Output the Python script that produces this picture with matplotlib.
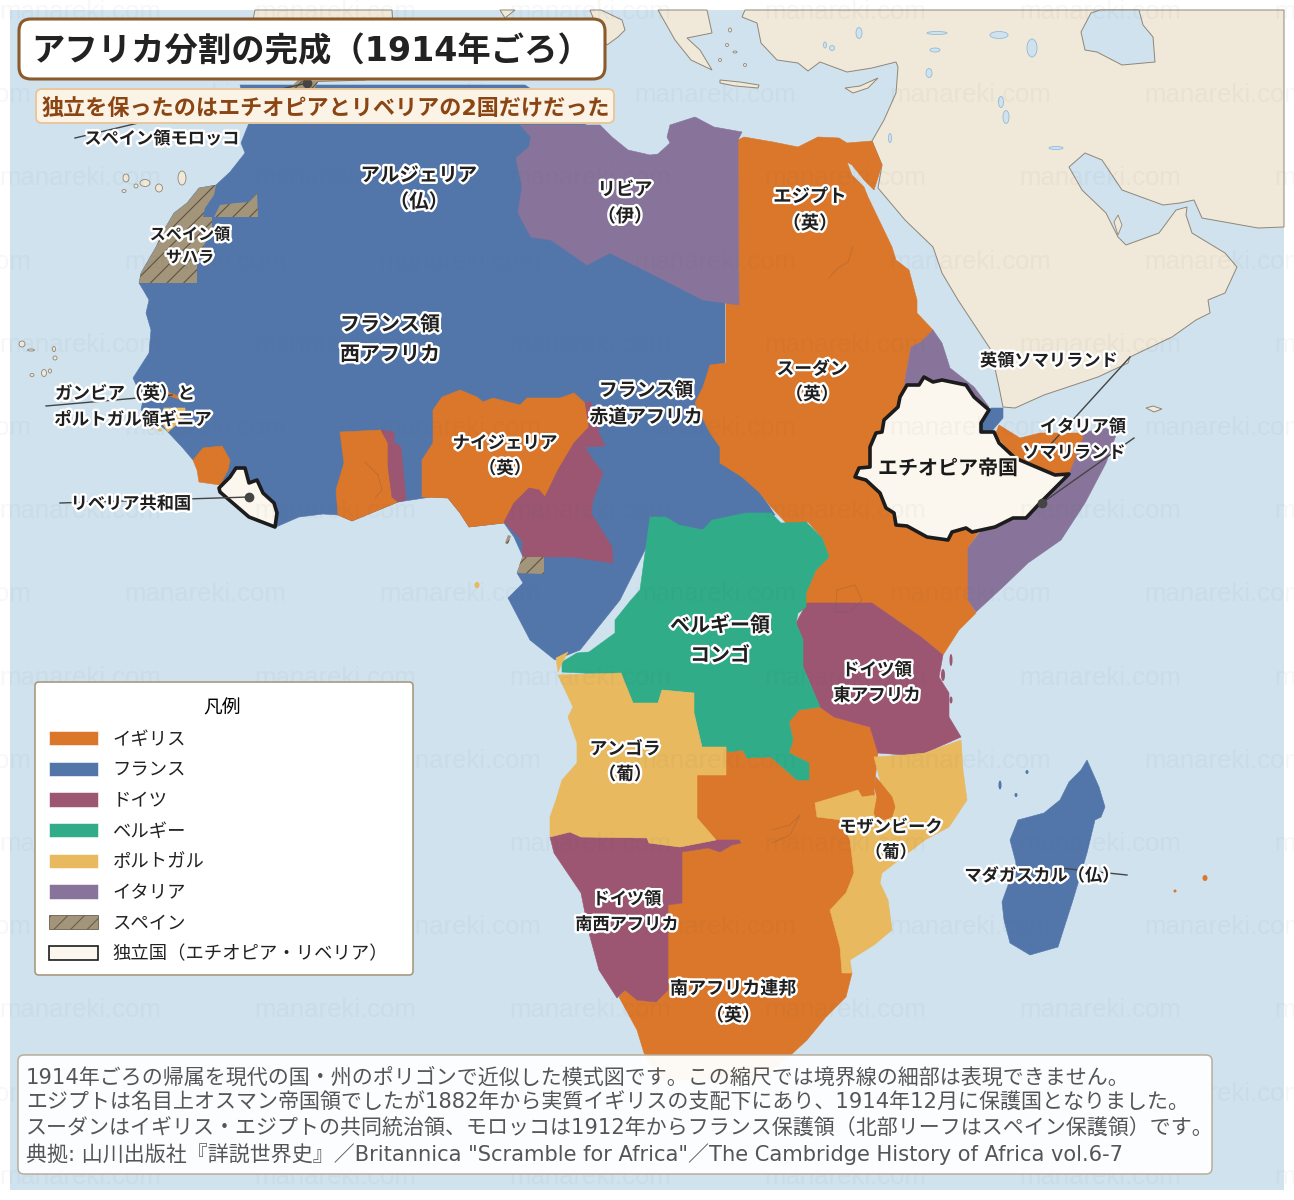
import matplotlib
matplotlib.use("Agg")
import matplotlib.pyplot as plt
from matplotlib.patches import Polygon, Rectangle, FancyBboxPatch, Ellipse, Patch
import matplotlib.patheffects as pe

plt.rcParams['font.family'] = ['Noto Sans CJK JP', 'DejaVu Sans']
plt.rcParams['hatch.linewidth'] = 0.8
plt.rcParams['hatch.color'] = '#5f5444'
LATIN_FIRST = ['DejaVu Sans', 'Noto Sans CJK JP']

# ---------------- data: territories in map units ----------------
FRANCE_MAIN = [(240,85),(525,85),(640,160),(735,300),(725,300),(725,440),(775,515),(650,540),(620,600),(580,650),(555,660),(530,640),(508,598),(523,583),(517,573),(523,557),(514,537),(504,523),(469,527),(460,513),(448,498),(431,497),(398,502),(352,521),(338,515),(323,514),(299,517),(276,527),(240,500),(193,460),(182,447),(166,430),(141,410),(143,400),(133,378),(149,353),(151,330),(146,313),(149,300),(145,293),(139,283),(141,273),(156,247),(164,230),(174,213),(187,203),(199,188),(216,185),(230,172),(245,153),(241,143),(249,123)]
DJIBOUTI = [(991,408),(1003,408),(1003,418),(991,432),(981,432),(981,423)]
MADAGASCAR = [(1087,760),(1099,787),(1105,807),(1101,817),(1095,820),(1087,853),(1073,900),(1058,947),(1030,955),(1010,943),(1004,920),(1002,902),(1016,863),(1010,840),(1018,820),(1044,813),(1060,800),(1069,782),(1081,770)]
EGYPT_SUDAN_EA = [(738,140),(744,137),(773,142),(798,147),(818,137),(839,138),(847,143),(872,141),(882,165),(874,190),(864,180),(852,165),(847,162),(852,175),(864,187),(868,197),(892,247),(896,260),(909,270),(917,300),(917,313),(933,330),(921,342),(911,347),(905,380),(960,500),(978,533),(968,548),(968,600),(976,613),(959,630),(943,655),(921,637),(872,603),(807,603),(798,613),(806,607),(806,593),(816,570),(829,557),(822,538),(808,522),(790,527),(771,507),(759,492),(742,477),(720,463),(720,447),(710,433),(695,403),(703,387),(710,365),(726,363),(726,300),(739,300)]
RHODESIA_SA = [(697,775),(726,775),(726,747),(728,752),(743,750),(747,758),(771,757),(797,780),(809,780),(809,763),(789,753),(793,740),(789,722),(799,710),(820,707),(834,717),(870,727),(878,753),(874,790),(878,820),(860,850),(860,900),(846,960),(852,973),(846,997),(826,1017),(807,1040),(793,1053),(760,1080),(660,1080),(644,1053),(637,1030),(619,997),(625,990),(637,1000),(656,1002),(668,990),(668,905),(682,903),(682,852),(708,848),(720,852),(732,845),(741,843),(739,840),(716,840),(697,818)]
NIGERIA = [(442,397),(460,390),(477,397),(483,402),(493,398),(520,405),(527,398),(560,398),(574,393),(585,403),(589,427),(574,443),(558,470),(545,497),(539,490),(529,488),(514,503),(504,523),(469,527),(460,513),(448,498),(422,497),(422,460),(433,443),(433,410)]
GOLD_COAST = [(340,432),(381,430),(388,443),(388,467),(392,497),(398,502),(352,521),(338,515),(336,490),(344,463)]
SIERRA_LEONE = [(203,448),(222,446),(230,460),(228,470),(220,485),(199,482),(197,470),(193,460)]
GAMBIA = [(168,392),(178,396),(178,399),(167,395)]
NYASALAND = [(876,777),(892,797),(895,807),(892,817),(878,822),(874,813),(877,797),(874,787)]
CAMEROON = [(585,402),(591,402),(599,433),(605,446),(585,447),(593,460),(603,473),(593,500),(591,513),(612,547),(613,563),(572,557),(523,557),(522,540),(504,522),(514,503),(529,488),(539,490),(545,497),(558,470),(574,443),(589,427)]
TOGO = [(381,430),(394,432),(394,442),(401,447),(406,500),(398,502),(392,497),(388,467),(388,443)]
GERMAN_EA = [(807,603),(872,603),(921,637),(943,655),(939,677),(949,693),(949,717),(961,737),(925,753),(905,755),(878,753),(870,727),(834,717),(820,707),(803,667),(803,640),(796,623),(803,610)]
GERMAN_SWA = [(550,837),(570,832),(581,837),(647,838),(649,843),(680,847),(716,840),(739,840),(741,843),(732,845),(720,852),(708,848),(682,852),(682,903),(668,905),(668,990),(656,1002),(637,1000),(625,990),(617,998),(599,970),(589,933),(581,893),(554,853)]
BELGIAN_CONGO = [(650,517),(666,517),(679,525),(703,530),(712,520),(746,513),(771,513),(781,523),(806,522),(822,538),(829,557),(816,570),(806,593),(806,607),(798,613),(796,623),(803,640),(803,667),(820,707),(799,710),(789,722),(793,740),(789,753),(809,763),(809,780),(797,780),(771,757),(747,758),(743,750),(728,752),(726,747),(702,747),(694,713),(694,693),(662,690),(658,703),(633,703),(621,675),(562,672),(562,662),(577,653),(589,652),(615,633),(615,620),(631,600),(640,590)]
ANGOLA = [(558,675),(621,673),(633,703),(658,703),(662,690),(694,693),(694,713),(702,747),(726,747),(726,775),(697,775),(697,818),(716,840),(680,847),(649,843),(647,838),(581,837),(570,832),(550,837),(550,817),(556,800),(562,780),(577,763),(577,743),(568,717),(573,707)]
CABINDA = [(556,658),(568,652),(562,663),(558,672)]
MOZAMBIQUE = [(874,757),(905,755),(925,753),(961,740),(963,770),(967,800),(949,827),(925,840),(882,873),(880,883),(888,900),(892,930),(874,945),(850,960),(852,973),(842,973),(840,947),(830,910),(846,893),(854,873),(850,840),(842,820),(817,817),(815,803),(858,790),(862,797),(876,795),(880,780)]
PORT_GUINEA = [(164,408),(185,408),(185,417),(168,432),(160,420)]
ERITREA = [(933,330),(942,343),(950,368),(974,387),(989,407),(960,420),(905,400),(905,380),(911,347),(921,342)]
ITAL_SOMALI = [(1081,433),(1106,428),(1116,435),(1106,463),(1085,503),(1061,540),(1028,563),(1003,587),(976,612),(968,600),(968,548),(979,533),(1040,503),(1069,473)]
BRIT_SOMALI = [(999,425),(1020,438),(1040,433),(1081,433),(1083,437),(1069,473),(1057,475),(1018,460),(995,435)]
SPAN_SAHARA = [(199,188),(216,185),(214,195),(205,208),(203,217),(212,217),(212,227),(197,263),(197,283),(139,283),(141,273),(156,247),(164,230),(174,213),(187,203)]
CAPE_JUBY = [(214,217),(220,205),(236,203),(249,202),(257,193),(258,217)]
RIO_MUNI = [(522,557),(544,557),(544,574),(517,573)]
BIOKO = [(505,543),(508,535),(511,536),(508,544)]
SPAN_MOROCCO = [(290,88),(298,80),(318,82),(314,90)]
ETHIOPIA = [(907,385),(919,385),(924,377),(933,382),(942,380),(966,385),(974,397),(989,410),(981,423),(981,432),(994,432),(999,443),(1015,458),(1055,475),(1069,474),(1040,503),(1026,518),(1013,518),(995,527),(972,532),(966,528),(952,532),(948,540),(927,537),(907,526),(896,525),(894,513),(886,508),(880,493),(866,480),(855,477),(859,468),(870,467),(870,447),(876,433),(882,432),(884,420),(898,407),(900,397)]
LIBERIA = [(219,488),(230,477),(236,468),(245,468),(249,483),(257,480),(263,493),(274,503),(277,513),(275,527),(249,517),(220,492)]
LIBYA = [(520,125),(600,125),(612,137),(628,150),(650,155),(658,154),(670,143),(667,137),(670,125),(695,117),(714,127),(742,132),(738,140),(739,305),(703,300),(650,273),(610,253),(587,265),(551,240),(531,237),(518,213),(522,187),(516,158),(529,147),(531,137)]

ASIA = [(745,10),(742,17),(757,23),(761,43),(777,60),(798,63),(808,71),(820,62),(847,72),(872,68),(896,62),(898,67),(896,93),(884,120),(872,141),(882,165),(878,188),(905,220),(933,247),(942,273),(958,300),(991,350),(999,387),(1003,407),(1015,408),(1044,395),(1098,377),(1128,363),(1130,357),(1172,337),(1196,320),(1210,313),(1208,300),(1225,293),(1237,267),(1225,253),(1192,233),(1186,215),(1187,207),(1176,210),(1159,233),(1126,245),(1118,237),(1106,213),(1082,190),(1069,167),(1085,153),(1102,160),(1122,190),(1163,205),(1180,203),(1194,200),(1202,218),(1258,228),(1284,227),(1284,10)]
CASPIAN = [(1081,32),(1091,13),(1100,10),(1139,10),(1143,25),(1153,37),(1155,62),(1122,65),(1097,52),(1085,50)]
IBERIA = [(255,10),(253,20),(285,60),(305,82),(365,80),(395,55),(392,10)]
FRANCE_EU = [(500,10),(505,18),(515,10)]
ITALY = [(590,10),(600,35),(607,45),(618,37),(625,30),(622,20),(601,10)]
GREECE = [(658,10),(675,40),(691,60),(712,70),(700,50),(687,38),(712,33),(707,10)]
CRETE = [(720,80),(740,82),(759,85),(758,88),(735,86),(720,83)]
CYPRUS = [(845,88),(860,86),(878,78),(868,88),(853,93)]
SOCOTRA = [(1146,408),(1153,406),(1162,409),(1154,412)]
QATAR = [(1114,222),(1118,215),(1122,225),(1118,235)]

LAND_ISLANDS = [(126,178,6,8),(145,183,10,7),(159,188,7,8),(182,178,8,14),(124,191,4,3),(136,186,4,4),
                (22,344,6,6),(31,350,7,2),(54,349,3,5),(55,358,4,4),(44,373,5,7),(50,371,3,4),(32,375,4,3),
                (727,45,3,3),(735,52,4,2),(745,65,3,3),(730,30,3,4),(720,60,3,3)]
ORANGE_DOTS = [(1205,878,5,6),(1175,891,3,3)]
PORT_ISLANDS = [(477,585,5,6),(160,430,4,3),(152,428,3,3)]
GERMAN_ISLANDS = [(951,660,3,12),(943,675,4,12),(951,700,3,7)]
FR_ISLANDS = [(1000,785,3,9),(1016,795,3,4),(1027,772,3,4)]
LAKES = [(859,33,6,11),(937,33,20,3),(999,35,18,7),(1032,48,10,18),(1001,102,5,11),(1006,117,6,13),
         (1056,148,14,3),(929,73,6,9),(890,138,3,9),(935,50,10,4),(825,45,3,6),(832,48,5,5)]
FAINT_LINES = [[(853,247),(848,262),(838,268),(829,278)],
               [(365,462),(378,475),(382,490),(375,498)],
               [(837,590),(855,585),(862,600),(850,612),(835,612),(837,590)],
               [(772,830),(790,825),(800,815),(790,835),(772,843)]]

COLORS = dict(uk='#db772a', fr='#5376aa', de='#9c5672', be='#30ac88',
              pt='#e8b95f', it='#88749a', es='#a3957a', ind='#fbf7ee')
LEGEND_LABELS = ['イギリス','フランス','ドイツ','ベルギー','ポルトガル','イタリア','スペイン','独立国（エチオピア・リベリア）']

LABELS = [
    ('アルジェリア\n（仏）', 419, 189, 14.0), ('リビア\n（伊）', 625, 203, 13.2),
    ('エジプト\n（英）', 810, 210, 13.2), ('スペイン領\nサハラ', 190, 246, 11.6),
    ('フランス領\n西アフリカ', 390, 339, 14.4), ('スーダン\n（英）', 812, 382, 12.8),
    ('フランス領\n赤道アフリカ', 646, 404, 13.6), ('ナイジェリア\n（英）', 505, 456, 12.6),
    ('ガンビア（英）と', 125, 394, 12.6), ('ポルトガル領ギニア', 133, 420, 12.6), ('リベリア共和国', 131, 504, 12.4),
    ('スペイン領モロッコ', 162, 139, 12.4), ('ベルギー領\nコンゴ', 720, 640, 14.4),
    ('ドイツ領\n東アフリカ', 877, 683, 12.6), ('アンゴラ\n（葡）', 625, 762, 12.8),
    ('モザンビーク\n（葡）', 891, 840, 12.4), ('マダガスカル（仏）', 1042, 876, 12.4),
    ('ドイツ領\n南西アフリカ', 627, 912, 12.4), ('南アフリカ連邦\n（英）', 733, 1002, 13.0),
    ('英領ソマリランド', 1049, 361, 12.4), ('イタリア領', 1083, 427, 12.4), ('ソマリランド', 1074, 453, 12.4),
]
LEADERS = [[(75,138),(307,83)], [(46,406),(172,395)], [(60,503),(249,497)],
           [(1130,357),(1050,445)], [(1134,438),(1042,503)], [(1127,875),(1060,868)]]
TITLE = 'アフリカ分割の完成（1914年ごろ）'
SUBTITLE = '独立を保ったのはエチオピアとリベリアの2国だけだった'
NOTES = ['1914年ごろの帰属を現代の国・州のポリゴンで近似した模式図です。この縮尺では境界線の細部は表現できません。',
         'エジプトは名目上オスマン帝国領でしたが1882年から実質イギリスの支配下にあり、1914年12月に保護国となりました。',
         'スーダンはイギリス・エジプトの共同統治領、モロッコは1912年からフランス保護領（北部リーフはスペイン保護領）です。',
         '典拠: 山川出版社『詳説世界史』／Britannica "Scramble for Africa"／The Cambridge History of Africa vol.6-7']

# ---------------- drawing ----------------
fig = plt.figure(figsize=(12.94, 12.0), dpi=100, facecolor='white')
ax = fig.add_axes([0, 0, 1, 1])
ax.set_xlim(0, 1294); ax.set_ylim(1200, 0); ax.axis('off')

OCEAN = '#cfe2ee'; LAND = '#f0e8d8'; COAST = '#8f8678'
ax.add_patch(Rectangle((10, 10), 1274, 1180, fc=OCEAN, ec='none', zorder=0))
for poly in (ASIA, IBERIA, FRANCE_EU, ITALY, GREECE, CRETE, CYPRUS, SOCOTRA):
    ax.add_patch(Polygon(poly, fc=LAND, ec=COAST, lw=0.7, zorder=1))
ax.add_patch(Polygon(CASPIAN, fc=OCEAN, ec=COAST, lw=0.7, zorder=1.5))
ax.add_patch(Polygon(QATAR, fc=LAND, ec=COAST, lw=0.6, zorder=1.5))
for x, y, w, h in LAND_ISLANDS:
    ax.add_patch(Ellipse((x, y), w, h, fc=LAND, ec=COAST, lw=0.6, zorder=1))
for x, y, w, h in LAKES:
    ax.add_patch(Ellipse((x, y), w, h, fc=OCEAN, ec='#93bcd8', lw=0.6, zorder=1.5))

def terr(poly, c, z=2):
    ax.add_patch(Polygon(poly, fc=COLORS[c], ec=COLORS[c], lw=0.4, zorder=z))

terr(FRANCE_MAIN, 'fr'); terr(DJIBOUTI, 'fr', 2.6); terr(MADAGASCAR, 'fr')
terr(LIBYA, 'it', 2.1); terr(ERITREA, 'it', 2.1); terr(ITAL_SOMALI, 'it', 2.2)
terr(EGYPT_SUDAN_EA, 'uk', 2.05); terr(RHODESIA_SA, 'uk', 2.1)
terr(NIGERIA, 'uk', 2.2); terr(GOLD_COAST, 'uk', 2.2); terr(SIERRA_LEONE, 'uk', 2.2)
terr(GAMBIA, 'uk', 2.2); terr(BRIT_SOMALI, 'uk', 2.3)
terr(CAMEROON, 'de', 2.25); terr(TOGO, 'de', 2.25); terr(GERMAN_EA, 'de', 2.25); terr(GERMAN_SWA, 'de', 2.25)
terr(BELGIAN_CONGO, 'be', 2.3)
terr(ANGOLA, 'pt', 2.35); terr(CABINDA, 'pt', 2.35); terr(MOZAMBIQUE, 'pt', 2.35); terr(PORT_GUINEA, 'pt', 2.2)
terr(NYASALAND, 'uk', 2.4)
for group, c in ((ORANGE_DOTS, 'uk'), (PORT_ISLANDS, 'pt'), (GERMAN_ISLANDS, 'de'), (FR_ISLANDS, 'fr')):
    for x, y, w, h in group:
        ax.add_patch(Ellipse((x, y), w, h, fc=COLORS[c], ec='none', zorder=2.4))
for poly in (SPAN_SAHARA, CAPE_JUBY, RIO_MUNI, BIOKO, SPAN_MOROCCO):
    ax.add_patch(Polygon(poly, fc=COLORS['es'], ec='#5f5444', hatch='//', lw=0, zorder=2.5))
for poly in (ETHIOPIA, LIBERIA):
    ax.add_patch(Polygon(poly, fc=COLORS['ind'], ec='#1c1c1c', lw=2.6, joinstyle='round', zorder=3))
for ln in FAINT_LINES:
    ax.plot(*zip(*ln), color='#6b5a45', lw=0.6, alpha=0.3, zorder=2.6)

# watermark: the whole repeating grid, clipped by the picture edge and hidden under the boxes
for i in range(15):
    y = 12 + 83.2 * i
    x0 = 80 if i % 2 == 0 else 205
    for k in range(-1, 6):
        ax.text(x0 + 255 * k, y, 'manareki.com', fontsize=18.5, color='#404a55', alpha=0.04,
                ha='center', va='center', family=['Liberation Sans'], zorder=4, clip_on=True)

# leader lines
for ln in LEADERS:
    ax.plot(*zip(*ln), color='#444444', lw=1.0, zorder=5)
    if ln[1][0] in (249, 1042, 307):
        ax.plot(*ln[1], 'o', color='#444444', ms=6, zorder=5)

# labels
for txt, x, y, fs in LABELS:
    ax.text(x, y, txt, fontsize=fs, fontweight='bold', color='#1f1f1f', ha='center', va='center',
            linespacing=1.52, zorder=7, path_effects=[pe.withStroke(linewidth=3.5, foreground='white')])
ax.text(948, 468, 'エチオピア帝国', fontsize=14.4, fontweight='bold', color='#1a1a1a', ha='center', va='center',
        zorder=7, path_effects=[pe.withStroke(linewidth=3.5, foreground=COLORS['ind'])])

# title + subtitle
ax.add_patch(FancyBboxPatch((29, 29), 566, 40, boxstyle='round,pad=10,rounding_size=12',
                            fc='white', ec='#8b5a2b', lw=2.2, zorder=8))
ax.text(31, 52, TITLE, fontsize=24, fontweight='bold', color='#222222', ha='left', va='center',
        family=LATIN_FIRST, zorder=9)
ax.add_patch(FancyBboxPatch((42, 95), 566, 22, boxstyle='round,pad=6,rounding_size=6',
                            fc='#fbf3e6', ec='#e8c79a', lw=1.4, zorder=8))
ax.text(42, 108, SUBTITLE, fontsize=15.9, fontweight='bold', color='#8b4513', ha='left', va='center',
        family=LATIN_FIRST, zorder=9)

# legend
ax.add_patch(FancyBboxPatch((39, 686), 370, 285, boxstyle='round,pad=4,rounding_size=4',
                            fc='white', ec='#a89a80', lw=1.2, zorder=8))
handles = [Patch(fc=COLORS[c], ec='#ffffff', lw=0.4) for c in ('uk','fr','de','be','pt','it')]
handles.append(Patch(fc=COLORS['es'], ec='#6b5f4d', hatch='//', lw=0.6))
handles.append(Patch(fc=COLORS['ind'], ec='#1c1c1c', lw=1.2))
leg = ax.legend(handles, LEGEND_LABELS, title='凡例', frameon=False, loc='upper left',
                bbox_to_anchor=(49, 697), bbox_transform=ax.transData, borderaxespad=0, borderpad=0,
                fontsize=13.2, title_fontsize=13.5, handlelength=2.68, handleheight=0.82,
                handletextpad=0.78, labelspacing=0.69, labelcolor='#222222')
leg.set_zorder(9)
leg.get_title().set_position((4, 0))

# notes
ax.add_patch(FancyBboxPatch((24, 1061), 1182, 107, boxstyle='round,pad=6,rounding_size=6',
                            fc='white', ec='#b5ab98', lw=1.1, alpha=0.96, zorder=8))
for s, y in zip(NOTES, (1078, 1103, 1129, 1154)):
    ax.text(26, y, s, fontsize=15.1, color='#555555', ha='left', va='center', family=LATIN_FIRST, zorder=9)

fig.savefig('out.png', dpi=100, facecolor='white')
